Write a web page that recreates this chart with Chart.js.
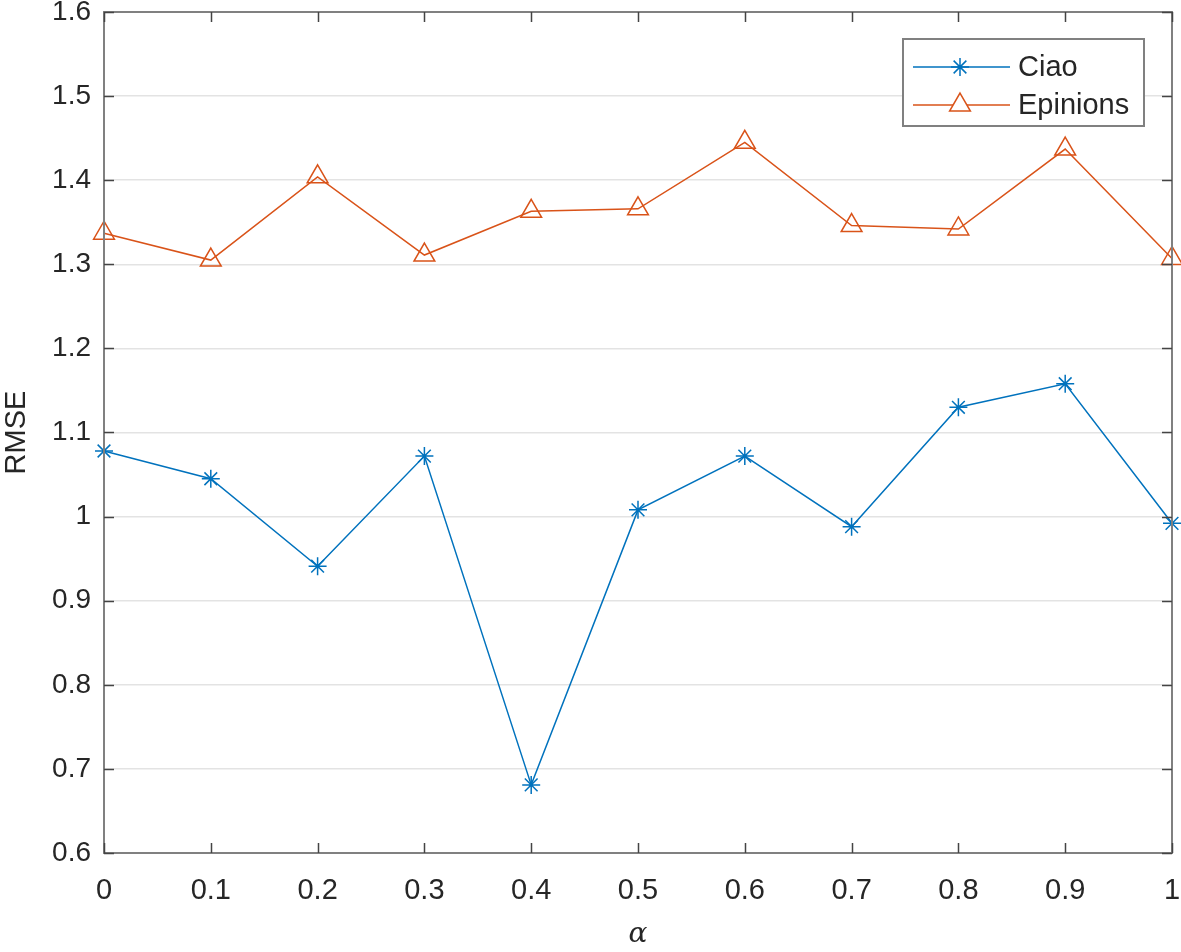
<!DOCTYPE html>
<html>
<head>
<meta charset="utf-8">
<script src="https://cdn.jsdelivr.net/npm/chart.js@4"></script>
<style>
  html, body { margin: 0; padding: 0; background: #fff; }
  #wrap { width: 1181px; height: 952px; position: relative; }
</style>
</head>
<body>
<div id="wrap"><canvas id="lineChart"></canvas></div>
<script>
const alphaValues = [0, 0.1, 0.2, 0.3, 0.4, 0.5, 0.6, 0.7, 0.8, 0.9, 1];
const ciao = [1.078, 1.045, 0.941, 1.072, 0.681, 1.008, 1.072, 0.988, 1.130, 1.158, 0.992];
const epinions = [1.337, 1.305, 1.404, 1.311, 1.363, 1.366, 1.445, 1.346, 1.342, 1.437, 1.307];
const xTickLabels = ["0", "0.1", "0.2", "0.3", "0.4", "0.5", "0.6", "0.7", "0.8", "0.9", "1"];
const seriesNames = ["Ciao", "Epinions"];

const BLUE = "#0072BD";
const ORANGE = "#D95319";
const AXIS = "#808080";
const TEXT = "#262626";
const FONT = "'Liberation Sans', Arial, sans-serif";

// box around plot + inward ticks, MATLAB style
const boxPlugin = {
    id: "box",
    afterDraw(chart) {
        const { ctx, chartArea: a, scales } = chart;
        ctx.save();
        ctx.strokeStyle = AXIS;
        ctx.lineWidth = 2;
        ctx.strokeRect(a.left, a.top, a.right - a.left, a.bottom - a.top);
        const len = 10;
        ctx.beginPath();
        scales.y.ticks.forEach((t) => {
            const py = Math.round(scales.y.getPixelForValue(t.value)) + 0.5;
            ctx.moveTo(a.left, py); ctx.lineTo(a.left + len, py);
            ctx.moveTo(a.right, py); ctx.lineTo(a.right - len, py);
        });
        scales.x.ticks.forEach((t) => {
            const px = Math.round(scales.x.getPixelForValue(t.value)) + 0.5;
            ctx.moveTo(px, a.bottom); ctx.lineTo(px, a.bottom - len);
            ctx.moveTo(px, a.top); ctx.lineTo(px, a.top + len);
        });
        ctx.lineWidth = 1.5;
        ctx.strokeStyle = "#444";
        ctx.stroke();
        ctx.restore();
    }
};

// legend with line + marker samples
const legendPlugin = {
    id: "matlabLegend",
    afterDraw(chart) {
        const { ctx } = chart;
        const x0 = 903, y0 = 39, w = 241, h = 87;
        ctx.save();
        ctx.fillStyle = "#fff";
        ctx.fillRect(x0, y0, w, h);
        ctx.strokeStyle = AXIS;
        ctx.lineWidth = 2;
        ctx.strokeRect(x0, y0, w, h);
        const rows = [67, 105];
        chart.data.datasets.forEach((ds, i) => {
            const y = rows[i];
            ctx.strokeStyle = ds.borderColor;
            ctx.lineWidth = 1.5;
            ctx.beginPath();
            ctx.moveTo(913, y); ctx.lineTo(1010, y);
            ctx.stroke();
            ctx.fillStyle = "#fff";
            Chart.helpers.drawPoint(ctx, {
                pointStyle: ds.pointStyle,
                radius: ds.pointRadius,
                borderWidth: ds.pointBorderWidth
            }, 960, y);
            ctx.fillStyle = TEXT;
            ctx.font = "29px " + FONT;
            ctx.textBaseline = "middle";
            ctx.fillText(ds.label, 1018, y + 1);
        });
        ctx.restore();
    }
};

const createLineChart = () => {
    const ctx = document.getElementById("lineChart");
    new Chart(ctx, {
        type: "line",
        data: {
            datasets: [
                {
                    label: seriesNames[0],
                    data: alphaValues.map((a, i) => ({ x: a, y: ciao[i] })),
                    borderColor: BLUE,
                    backgroundColor: BLUE,
                    borderWidth: 1.5,
                    pointStyle: "star",
                    pointRadius: 9,
                    pointBorderWidth: 1.5,
                    pointBorderColor: BLUE,
                    pointBackgroundColor: "rgba(0,0,0,0)",
                    tension: 0,
                },
                {
                    label: seriesNames[1],
                    data: alphaValues.map((a, i) => ({ x: a, y: epinions[i] })),
                    borderColor: ORANGE,
                    backgroundColor: "rgba(0,0,0,0)",
                    borderWidth: 1.5,
                    pointStyle: "triangle",
                    pointRadius: 12,
                    pointBorderWidth: 1.5,
                    pointBorderColor: ORANGE,
                    pointBackgroundColor: "rgba(0,0,0,0)",
                    tension: 0,
                },
            ],
        },
        options: {
            responsive: true,
            maintainAspectRatio: false,
            animation: false,
            clip: false,
            layout: { autoPadding: false, padding: { top: 12, right: 9, left: 0, bottom: 0 } },
            plugins: {
                legend: { display: false },
                tooltip: { enabled: false },
            },
            scales: {
                x: {
                    type: "linear",
                    min: 0,
                    max: 1,
                    afterBuildTicks: (scale) => {
                        scale.ticks = alphaValues.map((v) => ({ value: v }));
                    },
                    afterFit: (scale) => {
                        scale.height = 99;
                        scale.paddingLeft = 0;
                        scale.paddingRight = 0;
                    },
                    grid: { display: false, drawTicks: false },
                    border: { display: false },
                    ticks: {
                        padding: 21,
                        color: TEXT,
                        font: { family: FONT, size: 29 },
                        callback: (v, i) => xTickLabels[i],
                    },
                    title: {
                        display: true,
                        text: "α",
                        color: TEXT,
                        font: { family: "'DejaVu Serif', 'Liberation Serif', serif", size: 28, style: "italic" },
                        padding: { top: 0, bottom: 0 },
                    },
                },
                y: {
                    min: 0.6,
                    max: 1.6,
                    afterFit: (scale) => {
                        scale.width = 104;
                        scale.paddingTop = 0;
                        scale.paddingBottom = 0;
                    },
                    grid: { color: "#e3e3e3", lineWidth: 1.5, drawTicks: false },
                    border: { display: false },
                    ticks: {
                        stepSize: 0.1,
                        padding: 13,
                        color: TEXT,
                        font: { family: FONT, size: 28 },
                        callback: (v) => String(Math.round(v * 10) / 10),
                    },
                    title: {
                        display: true,
                        text: "RMSE",
                        color: TEXT,
                        font: { family: FONT, size: 29 },
                        padding: { top: 0, bottom: 4 },
                    },
                },
            },
        },
        plugins: [boxPlugin, legendPlugin],
    });
};

createLineChart();
</script>
</body>
</html>
